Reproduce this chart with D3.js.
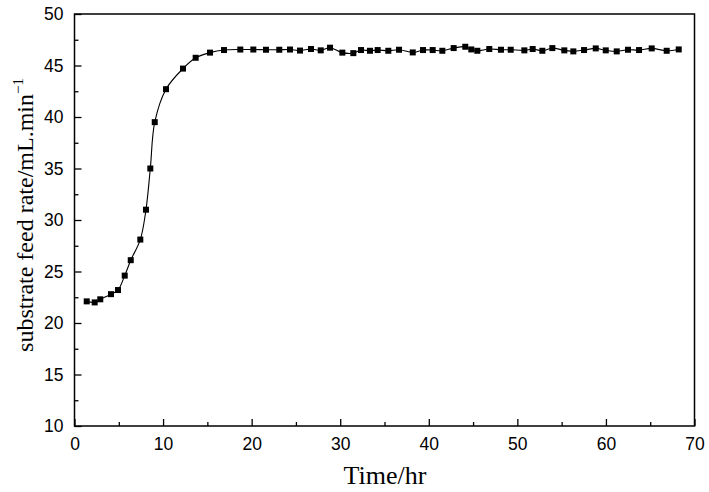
<!DOCTYPE html>
<html>
<head>
<meta charset="utf-8">
<script src="https://cdn.jsdelivr.net/npm/d3@7"></script>
<style>
  body { margin: 0; background: #fff; }
  .tick text { font-family: "Liberation Sans", Arial, sans-serif; font-size: 17.5px; fill: #000; }
  .axis-label { font-family: "Liberation Serif", "Times New Roman", serif; fill: #000; }
</style>
</head>
<body>
<svg width="709" height="492"></svg>
<script>
// time (hr)
const timeHr = [1.38, 2.28, 2.91, 4.12, 4.91, 5.67, 6.35, 7.43, 8.07, 8.56, 9.06, 10.33,
  12.25, 13.68, 15.3, 16.88, 18.72, 20.19, 21.62, 23.12, 24.33, 25.46, 26.7, 27.8, 28.85,
  30.24, 31.48, 32.35, 33.36, 34.23, 35.43, 36.64, 38.19, 39.35, 40.44, 41.53, 42.81,
  44.12, 44.8, 45.48, 46.83, 48.15, 49.25, 50.79, 51.73, 52.82, 53.95, 55.3, 56.32,
  57.53, 58.85, 59.98, 61.22, 62.49, 63.74, 65.17, 66.86, 68.22];
// substrate feed rate (mL/min)
const feedRate = [22.1, 22.0, 22.3, 22.8, 23.2, 24.6, 26.1, 28.1, 31.0, 35.0, 39.5, 42.7,
  44.7, 45.75, 46.25, 46.5, 46.55, 46.55, 46.53, 46.53, 46.55, 46.45, 46.6, 46.47, 46.73,
  46.25, 46.2, 46.5, 46.43, 46.5, 46.43, 46.53, 46.27, 46.5, 46.5, 46.43, 46.69,
  46.82, 46.56, 46.43, 46.6, 46.53, 46.53, 46.47, 46.6, 46.43, 46.69, 46.47, 46.37,
  46.5, 46.66, 46.47, 46.37, 46.53, 46.5, 46.66, 46.43, 46.56];
const xTicks = [0, 10, 20, 30, 40, 50, 60, 70];
const yTicks = [10, 15, 20, 25, 30, 35, 40, 45, 50];

const svg = d3.select('svg');
const width = +svg.attr('width');
const height = +svg.attr('height');
const margin = {top: 14, right: 14.5, bottom: 66, left: 74.5};
const innerWidth = width - margin.left - margin.right;
const innerHeight = height - margin.top - margin.bottom;

const data = timeHr.map((t, i) => ({t: t, v: feedRate[i]}));

const xScale = d3.scaleLinear().domain([0, 70]).range([0, innerWidth]);
const yScale = d3.scaleLinear().domain([10, 50]).range([innerHeight, 0]);

const g = svg.append('g')
    .attr('transform', `translate(${margin.left}, ${margin.top})`);

// frame
g.append('rect')
    .attr('width', innerWidth)
    .attr('height', innerHeight)
    .attr('fill', 'none')
    .attr('stroke', '#000')
    .attr('stroke-width', 1.5);

// minor ticks (no labels)
const xMinor = d3.range(5, 70, 10);
const yMinor = d3.range(12.5, 50, 5);
g.append('g')
    .attr('transform', `translate(0, ${innerHeight})`)
    .call(d3.axisBottom(xScale).tickValues(xMinor).tickSize(-4))
    .call(a => a.select('.domain').remove())
    .call(a => a.selectAll('text').remove());
g.append('g')
    .call(d3.axisLeft(yScale).tickValues(yMinor).tickSize(-4))
    .call(a => a.select('.domain').remove())
    .call(a => a.selectAll('text').remove());

// major ticks
const xAxisG = g.append('g')
    .attr('transform', `translate(0, ${innerHeight})`)
    .call(d3.axisBottom(xScale).tickValues(xTicks).tickSize(-7).tickPadding(12));
xAxisG.select('.domain').remove();

const yAxisG = g.append('g')
    .call(d3.axisLeft(yScale).tickValues(yTicks).tickSize(-7).tickPadding(11));
yAxisG.select('.domain').remove();

g.selectAll('.tick line').attr('stroke', '#000').attr('stroke-width', 1.3);

// curve
const line = d3.line()
    .x(d => xScale(d.t))
    .y(d => yScale(d.v))
    .curve(d3.curveCatmullRom.alpha(0.5));

g.append('path')
    .datum(data)
    .attr('d', line)
    .attr('fill', 'none')
    .attr('stroke', '#000')
    .attr('stroke-width', 1.1);

g.selectAll('rect.pt').data(data)
  .enter().append('rect')
    .attr('class', 'pt')
    .attr('x', d => xScale(d.t) - 3)
    .attr('y', d => yScale(d.v) - 3)
    .attr('width', 6)
    .attr('height', 6)
    .attr('fill', '#000');

// axis titles
svg.append('text')
    .attr('class', 'axis-label')
    .attr('font-size', 26)
    .attr('x', 385)
    .attr('y', 484)
    .attr('text-anchor', 'middle')
    .text('Time/hr');

const yl = svg.append('text')
    .attr('class', 'axis-label')
    .attr('font-size', 24)
    .attr('text-anchor', 'middle')
    .attr('transform', 'translate(33, 215) rotate(-90)');
yl.append('tspan').text('substrate feed rate/mL.min');
yl.append('tspan')
    .attr('dy', -10)
    .attr('font-size', 15)
    .text('−1');
</script>
</body>
</html>
